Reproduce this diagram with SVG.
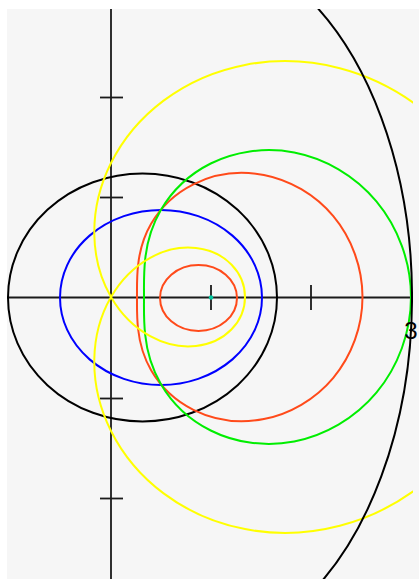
<svg xmlns="http://www.w3.org/2000/svg" width="419" height="579" viewBox="0 0 419 579">
<style>
.c{fill:none;stroke-width:2;stroke-linejoin:round}
.ax{fill:none;stroke:#1a1a1a;stroke-width:1.8}
</style>
<defs>
<clipPath id="plot"><rect x="7" y="9" width="406" height="570"/></clipPath>
</defs>
<rect x="0" y="0" width="419" height="579" fill="#ffffff"/>
<rect x="7" y="9" width="412" height="570" fill="#f6f6f6"/>
<g clip-path="url(#plot)">
<g id="axes">
<line class="ax" x1="7" y1="297.5" x2="411" y2="297.5"/>
<line class="ax" x1="111" y1="9" x2="111" y2="579"/>
<line class="ax" x1="211" y1="285" x2="211" y2="310"/>
<line class="ax" x1="311" y1="285" x2="311" y2="310"/>
<line class="ax" x1="100" y1="97.5" x2="123" y2="97.5"/>
<line class="ax" x1="100" y1="197.5" x2="123" y2="197.5"/>
<line class="ax" x1="100" y1="398.5" x2="123" y2="398.5"/>
<line class="ax" x1="100" y1="498.5" x2="123" y2="498.5"/>
</g>
<g id="black-ellipse"><ellipse class="c" stroke="#000" cx="142.5" cy="297.5" rx="134.5" ry="124"/></g>
<g id="blue-ellipse"><ellipse class="c" stroke="#0000ff" cx="161" cy="297.5" rx="101" ry="87.5"/></g>
<g id="red-inner"><ellipse class="c" stroke="#ff4a1a" cx="198.5" cy="298" rx="38.5" ry="33"/></g>
<g id="red-outer"><path class="c" stroke="#ff4a1a" d="M 362.5 297 C 362.5 267.5, 351.7 238.2, 333.3 216.2 C 315.0 194.3, 289.4 179.9, 263.9 175.0 C 238.3 170.0, 213.1 174.4, 193.4 184.3 C 173.7 194.1, 159.7 209.0, 151.1 223.8 C 142.6 238.5, 139.4 252.9, 138.1 265.0 C 136.7 277.2, 137.0 287.2, 137.0 297 C 137.0 306.8, 136.7 316.8, 138.1 329.0 C 139.4 341.1, 142.6 355.5, 151.1 370.2 C 159.7 385.0, 173.7 399.9, 193.4 409.8 C 213.1 419.6, 238.3 424.0, 263.9 419.0 C 289.4 414.1, 315.0 399.7, 333.3 377.8 C 351.7 355.8, 362.5 326.5, 362.5 297 Z"/></g>
<g id="green"><path class="c" stroke="#00ee00" d="M 411.0 297 C 411.0 262.1, 398.1 227.4, 376.4 201.4 C 354.7 175.3, 324.4 158.3, 294.2 152.5 C 263.9 146.7, 234.0 151.9, 210.7 163.5 C 187.4 175.2, 170.8 192.8, 160.7 210.3 C 150.6 227.8, 146.7 244.8, 145.2 259.2 C 143.6 273.5, 144.0 285.4, 144.0 297 C 144.0 308.7, 143.6 320.5, 145.2 334.9 C 146.7 349.2, 150.6 366.2, 160.7 383.7 C 170.8 401.2, 187.4 418.9, 210.7 430.5 C 234.0 442.2, 263.9 447.3, 294.2 441.5 C 324.4 435.7, 354.7 418.7, 376.4 392.7 C 398.1 366.7, 411.0 332.0, 411.0 297 Z"/></g>
<g id="yellow"><path class="c" stroke="#ffff00" d="M 513 297 C 513 261.9, 505.2 226.8, 490.5 195.3 C 475.8 163.8, 454.1 135.8, 428.0 114.0 C 401.9 92.2, 371.5 76.5, 339.8 68.2 C 308.1 59.9, 275.4 59.1, 245.0 64.9 C 214.6 70.7, 186.6 83.4, 163.6 100.6 C 140.6 117.8, 122.7 139.6, 111 163 C 99.3 186.4, 93.9 211.3, 94.3 234.6 C 94.7 257.9, 100.9 279.5, 111 297 C 121.1 314.5, 135.1 327.9, 150.2 336.2 C 165.3 344.5, 181.6 347.6, 196.0 346.0 C 210.4 344.4, 222.9 338.3, 231.6 329.3 C 240.3 320.3, 245 308.7, 245 297 C 245 285.3, 240.3 273.7, 231.6 264.7 C 222.9 255.7, 210.4 249.6, 196.0 248.0 C 181.6 246.4, 165.3 249.5, 150.2 257.8 C 135.1 266.1, 121.1 279.5, 111 297 C 100.9 314.5, 94.7 336.1, 94.3 359.4 C 93.9 382.7, 99.3 407.6, 111 431 C 122.7 454.4, 140.6 476.2, 163.6 493.4 C 186.6 510.6, 214.6 523.3, 245.0 529.1 C 275.4 534.9, 308.1 534.1, 339.8 525.8 C 371.5 517.5, 401.9 501.8, 428.0 480.0 C 454.1 458.2, 475.8 430.2, 490.5 398.7 C 505.2 367.2, 513 332.1, 513 297 Z"/></g>
<g id="big-arc"><path class="c" stroke="#000" d="M 310.1 0 A 220 352 0 0 1 310.1 594"/></g>
<g id="center-dot"><circle cx="211" cy="297.5" r="2.2" fill="#00c8a0"/></g>
</g>
<g id="label-3"><text x="411" y="339" font-family="Liberation Sans, Arial, sans-serif" font-size="24" text-anchor="middle" fill="#000">3</text></g>
</svg>
